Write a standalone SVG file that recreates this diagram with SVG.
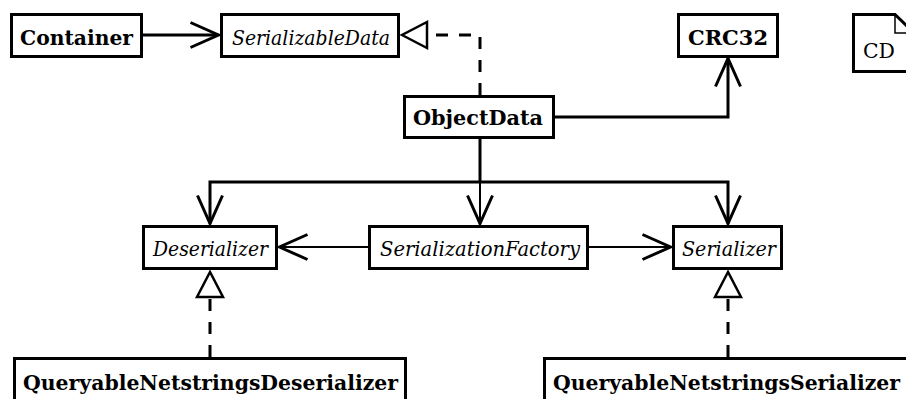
<svg xmlns="http://www.w3.org/2000/svg" width="906" height="399" viewBox="0 0 906 399">
<style>
.box{fill:#fff;stroke:#000;stroke-width:3}
.b{font-family:"DejaVu Serif","Liberation Serif",serif;font-weight:bold;font-size:21px;text-anchor:middle;fill:#000}
.i{font-family:"DejaVu Serif","Liberation Serif",serif;font-style:italic;font-size:21px;text-anchor:middle;fill:#000}
.r{font-family:"DejaVu Serif","Liberation Serif",serif;font-size:20px;fill:#000}
.c{fill:none;stroke:#000;stroke-width:3}
.t{fill:none;stroke:#000;stroke-width:2}
.d{fill:none;stroke:#000;stroke-width:3;stroke-dasharray:12 11}
</style>
<defs>
<marker id="open" markerUnits="userSpaceOnUse" markerWidth="40" markerHeight="40" refX="0" refY="0" orient="auto" overflow="visible">
<path d="M-28,-12.5 L0,0 L-28,12.5" fill="none" stroke="#000" stroke-width="3"/>
</marker>
<marker id="tri" markerUnits="userSpaceOnUse" markerWidth="40" markerHeight="40" refX="0" refY="0" orient="auto" overflow="visible">
<path d="M0,0 L-25,-13 L-25,13 Z" fill="#fff" stroke="#000" stroke-width="2.5" stroke-dasharray="none"/>
</marker>
</defs>
<g id="connectors">
<path class="c" d="M143,35 H218.5" marker-end="url(#open)"/>
<path class="d" d="M480,95 V35 H402" marker-end="url(#tri)"/>
<path class="c" d="M555,117 H728 V58.5" marker-end="url(#open)"/>
<path class="c" d="M480,139 V182"/>
<path class="c" d="M480,182 H210 V223.5" marker-end="url(#open)"/>
<path class="c" d="M480,182 H728 V223.5" marker-end="url(#open)"/>
<path class="t" d="M480,182 V223.5" marker-end="url(#open)"/>
<path class="t" d="M368,247 H279.5" marker-end="url(#open)"/>
<path class="t" d="M589,247 H670.5" marker-end="url(#open)"/>
<path class="d" d="M210,357 V272" marker-end="url(#tri)"/>
<path class="d" d="M728,357 V272" marker-end="url(#tri)"/>
</g>
<g id="Container">
<rect class="box" x="11.5" y="14.5" width="130" height="42"/>
<text class="b" x="76.5" y="45" textLength="113" lengthAdjust="spacingAndGlyphs">Container</text>
</g>
<g id="SerializableData">
<rect class="box" x="221.5" y="14.5" width="177" height="42"/>
<text class="i" x="311" y="45" textLength="158" lengthAdjust="spacingAndGlyphs">SerializableData</text>
</g>
<g id="CRC32">
<rect class="box" x="678.5" y="14.5" width="99" height="42"/>
<text class="b" x="728" y="45" textLength="80" lengthAdjust="spacingAndGlyphs">CRC32</text>
</g>
<g id="CD">
<path d="M853.5,14.5 H895 L914,33 V71.5 H853.5 Z" fill="#fff" stroke="#000" stroke-width="3"/>
<path d="M895,14.5 V33 H914" fill="none" stroke="#000" stroke-width="1.5"/>
<text class="r" x="863" y="58" textLength="32" lengthAdjust="spacingAndGlyphs">CD</text>
</g>
<g id="ObjectData">
<rect class="box" x="404.5" y="96.5" width="149" height="41"/>
<text class="b" x="478" y="125" textLength="130" lengthAdjust="spacingAndGlyphs">ObjectData</text>
</g>
<g id="Deserializer">
<rect class="box" x="143.5" y="226.5" width="133" height="42"/>
<text class="i" x="210.5" y="256" textLength="115" lengthAdjust="spacingAndGlyphs">Deserializer</text>
</g>
<g id="SerializationFactory">
<rect class="box" x="369.5" y="226.5" width="218" height="42"/>
<text class="i" x="480" y="256" textLength="200" lengthAdjust="spacingAndGlyphs">SerializationFactory</text>
</g>
<g id="Serializer">
<rect class="box" x="673.5" y="226.5" width="108" height="42"/>
<text class="i" x="729" y="256" textLength="94" lengthAdjust="spacingAndGlyphs">Serializer</text>
</g>
<g id="QueryableNetstringsDeserializer">
<rect class="box" x="14.5" y="358.5" width="391" height="50"/>
<text class="b" x="210.5" y="390" textLength="375" lengthAdjust="spacingAndGlyphs">QueryableNetstringsDeserializer</text>
</g>
<g id="QueryableNetstringsSerializer">
<rect class="box" x="544.5" y="358.5" width="380" height="50"/>
<text class="b" x="726.5" y="390" textLength="347" lengthAdjust="spacingAndGlyphs">QueryableNetstringsSerializer</text>
</g>
</svg>
